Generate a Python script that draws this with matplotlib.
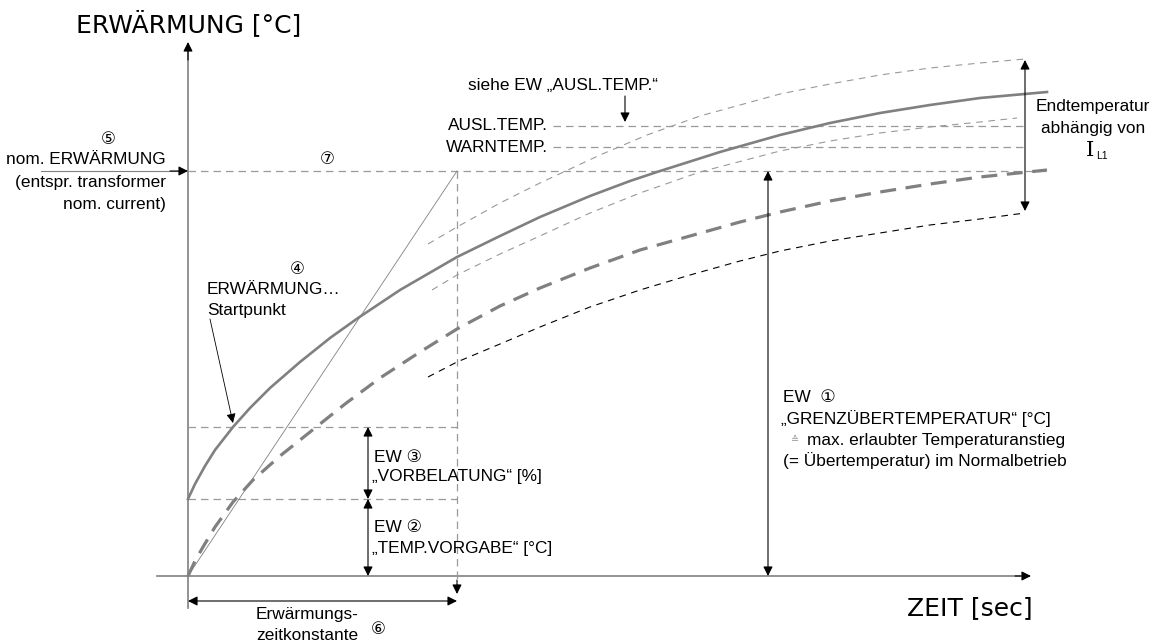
import matplotlib
matplotlib.use("Agg")
import matplotlib.pyplot as plt

# curve points (x = time, y = height, pixel units, y downwards)
main_x = [188, 195, 205, 215, 233, 250, 270, 300, 330, 358, 400, 457, 500, 540, 590,
          630, 657, 720, 780, 830, 880, 930, 980, 1047]
main_y = [499, 484, 466, 450, 427, 408, 388, 362, 338, 318, 290, 257, 236, 217, 196,
          181, 172, 152, 135, 123, 113, 105, 98, 92]

low_x = [188, 195, 203, 215, 233, 253, 280, 310, 345, 380, 420, 457, 500, 540, 590,
         640, 690, 740, 780, 830, 880, 930, 980, 1047]
low_y = [576, 561, 547, 527, 502, 480, 456, 432, 404, 378, 352, 329, 306, 288, 268,
         250, 236, 222, 212, 201, 192, 184, 177, 170]

up_x = [428, 457, 500, 540, 600, 647, 700, 780, 830, 880, 930, 980, 1025]
up_y = [244, 227, 203, 183, 155, 135, 116, 94, 84, 75, 68, 63, 59]

mid_x = [432, 457, 500, 540, 590, 640, 700, 780, 830, 880, 930, 980, 1017]
mid_y = [290, 275, 254, 236, 213, 193, 172, 151, 141, 133, 127, 122, 118]

bot_x = [428, 457, 500, 540, 590, 640, 690, 740, 780, 830, 880, 930, 980, 1025]
bot_y = [377, 362, 344, 327, 307, 290, 275, 261, 251, 241, 233, 225, 219, 213]

# levels
y_nom = 171
y_ausl = 126
y_warn = 147
y_start = 427
y_pre = 499
y_zero = 576
x_zero = 188
x_tau = 457

fig = plt.figure(figsize=(11.57, 6.42), dpi=100)
ax = fig.add_axes([0, 0, 1, 1])
ax.set_xlim(0, 1157)
ax.set_ylim(642, 0)
ax.axis("off")

fam = ["Liberation Sans", "DejaVu Sans"]
grey = "#808080"
lgrey = "#999999"


def arrow(x0, y0, x1, y1, both=False, col="black", lw=0.8, ms=14):
    st = "<|-|>" if both else "-|>"
    ax.annotate("", xy=(x1, y1), xytext=(x0, y0),
                arrowprops=dict(arrowstyle=st, color=col, lw=lw, mutation_scale=ms,
                                shrinkA=0, shrinkB=0))


# axes
ax.plot([x_zero, x_zero], [608, 50], color=grey, lw=1.2)
arrow(x_zero, 60, x_zero, 42)
ax.plot([157, 1020], [y_zero, y_zero], color=grey, lw=1.2)
arrow(1015, y_zero, 1031, y_zero)

# helper dashed lines
dash = (0, (6, 4))
ax.plot([x_zero, 1050], [y_nom, y_nom], color=lgrey, lw=0.9, ls=dash)
ax.plot([553, 1025], [y_ausl, y_ausl], color=lgrey, lw=0.9, ls=dash)
ax.plot([553, 1025], [y_warn, y_warn], color=lgrey, lw=0.9, ls=dash)
ax.plot([x_zero, x_tau], [y_start, y_start], color=lgrey, lw=0.9, ls=dash)
ax.plot([x_zero, x_tau], [y_pre, y_pre], color=lgrey, lw=0.9, ls=dash)
ax.plot([x_tau, x_tau], [y_nom, 585], color=lgrey, lw=0.9, ls=dash)
arrow(x_tau, 580, x_tau, 594)

# tangent
ax.plot([x_zero, x_tau], [y_zero, y_nom], color=grey, lw=0.6)

# curves
ax.plot(up_x, up_y, color=lgrey, lw=0.8, ls=(0, (6, 5)))
ax.plot(mid_x, mid_y, color=lgrey, lw=0.8, ls=(0, (6, 5)))
ax.plot(bot_x, bot_y, color="black", lw=0.8, ls=(0, (6, 5)))
ax.plot(main_x, main_y, color=grey, lw=1.9, solid_joinstyle="round")
ax.plot(low_x, low_y, color=grey, lw=2.3, ls=(0, (5, 3)))

# arrows
ax.plot([41, 180], [y_nom, y_nom], color=grey, lw=0.8)
arrow(170, y_nom, x_zero, y_nom)
arrow(368, y_start, 368, y_pre, both=True)
arrow(368, y_pre, 368, y_zero, both=True)
arrow(x_zero, 601, x_tau, 601, both=True)
arrow(768, y_nom, 768, y_zero, both=True)
arrow(1025, 60, 1025, 211, both=True)
arrow(625, 96, 625, 122)
arrow(210, 319, 233, 423, lw=0.6)

fs = 12.4
cs = 12
# titles
ax.text(76, 24, "ERWÄRMUNG [°C]", fontsize=18, family="DejaVu Sans", va="center", ha="left")
ax.text(1033, 608, "ZEIT [sec]", fontsize=18, family="DejaVu Sans", va="center", ha="right")

# left labels
ax.text(108, 140, "⑤", fontsize=cs, family=fam, ha="center", va="center")
ax.text(166, 160, "nom. ERWÄRMUNG", fontsize=fs, family=fam, ha="right", va="center")
ax.text(166, 183, "(entspr. transformer", fontsize=fs, family=fam, ha="right", va="center")
ax.text(166, 205, "nom. current)", fontsize=fs, family=fam, ha="right", va="center")

ax.text(327, 160, "⑦", fontsize=cs, family=fam, ha="center", va="center")
ax.text(297, 270, "④", fontsize=cs, family=fam, ha="center", va="center")
ax.text(207, 290, "ERWÄRMUNG…", fontsize=fs, family=fam, ha="left", va="center")
ax.text(207, 311, "Startpunkt", fontsize=fs, family=fam, ha="left", va="center")

ax.text(563, 85, "siehe EW „AUSL.TEMP.“", fontsize=fs, family=fam, ha="center", va="center")
ax.text(548, 126, "AUSL.TEMP.", fontsize=fs, family=fam, ha="right", va="center")
ax.text(548, 147, "WARNTEMP.", fontsize=fs, family=fam, ha="right", va="center")

ax.text(374, 457, "EW ③", fontsize=fs, family=fam, ha="left", va="center")
ax.text(372, 477, "„VORBELATUNG“ [%]", fontsize=fs, family=fam, ha="left", va="center")
ax.text(374, 527, "EW ②", fontsize=fs, family=fam, ha="left", va="center")
ax.text(372, 548, "„TEMP.VORGABE“ [°C]", fontsize=fs, family=fam, ha="left", va="center")

ax.text(256, 615, "Erwärmungs-", fontsize=fs, family=fam, ha="left", va="center")
ax.text(256, 635, "zeitkonstante", fontsize=fs, family=fam, ha="left", va="center")
ax.text(378, 630, "⑥", fontsize=cs, family=fam, ha="center", va="center")

ax.text(783, 398, "EW  ①", fontsize=fs, family=fam, ha="left", va="center")
ax.text(781, 419, "„GRENZÜBERTEMPERATUR“ [°C]", fontsize=fs, family=fam, ha="left", va="center")
ax.text(795, 440, "≙", fontsize=7, color=lgrey, family="DejaVu Sans", ha="center", va="center")
ax.text(807, 441, "max. erlaubter Temperaturanstieg", fontsize=fs, family=fam, ha="left", va="center")
ax.text(783, 461, "(= Übertemperatur) im Normalbetrieb", fontsize=fs, family=fam, ha="left", va="center")

ax.text(1093, 107, "Endtemperatur", fontsize=fs, family=fam, ha="center", va="center")
ax.text(1093, 128, "abhängig von", fontsize=fs, family=fam, ha="center", va="center")
ax.text(1090, 151, "I", fontsize=15, family="DejaVu Serif", ha="center", va="center")
ax.text(1096, 156, "L1", fontsize=7.5, family=fam, ha="left", va="center")

fig.savefig("out.png", dpi=100)
